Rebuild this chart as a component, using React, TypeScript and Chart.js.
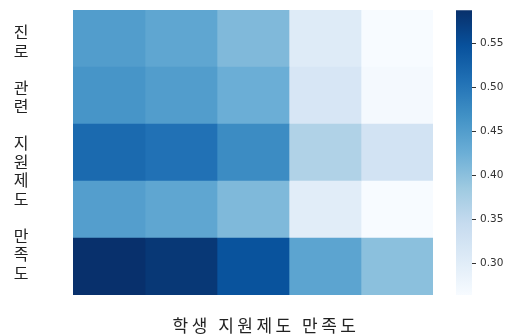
import React, { useEffect, useRef } from "react";
import { Chart, registerables } from "chart.js";

Chart.register(...registerables);

// Heatmap data (rows top -> bottom, columns left -> right)
const rowLabels = ["1", "2", "3", "4", "5"];
const colLabels = ["1", "2", "3", "4", "5"];
const row1 = [0.45, 0.437, 0.409, 0.304, 0.264];
const row2 = [0.461, 0.45, 0.426, 0.316, 0.268];
const row3 = [0.516, 0.507, 0.473, 0.367, 0.325];
const row4 = [0.448, 0.437, 0.41, 0.3, 0.264];
const row5 = [0.587, 0.578, 0.545, 0.44, 0.4];
const rows = [row1, row2, row3, row4, row5];

// Colour bar
const cbMin = 0.2636;
const cbMax = 0.5875;
const cbTicks = [0.3, 0.35, 0.4, 0.45, 0.5, 0.55];

const xTitle = "학생 지원제도 만족도";
const yTitleLines = ["진", "로", "", "관", "련", "", "지", "원", "제", "도", "", "만", "족", "도"];

const blues: [number, number, number][] = [
  [247, 251, 255],
  [222, 235, 247],
  [198, 219, 239],
  [158, 202, 225],
  [107, 174, 214],
  [66, 146, 198],
  [33, 113, 181],
  [8, 81, 156],
  [8, 48, 107],
];

function bluesColor(t: number): string {
  const c = Math.max(0, Math.min(1, t)) * (blues.length - 1);
  const i = Math.min(blues.length - 2, Math.floor(c));
  const f = c - i;
  const a = blues[i];
  const b = blues[i + 1];
  const r = Math.round(a[0] + (b[0] - a[0]) * f);
  const g = Math.round(a[1] + (b[1] - a[1]) * f);
  const bl = Math.round(a[2] + (b[2] - a[2]) * f);
  return `rgb(${r},${g},${bl})`;
}

function valueColor(v: number): string {
  return bluesColor((v - cbMin) / (cbMax - cbMin));
}

const W = 509;
const H = 336;

export default function App() {
  const heatRef = useRef<HTMLCanvasElement>(null);
  const barRef = useRef<HTMLCanvasElement>(null);

  useEffect(() => {
    if (!heatRef.current || !barRef.current) return;

    const titlesPlugin = {
      id: "titles",
      afterDraw(chart: any) {
        const ctx = chart.ctx;
        const area = chart.chartArea;
        ctx.save();
        ctx.fillStyle = "#222";
        ctx.textAlign = "center";
        ctx.textBaseline = "middle";
        // vertical stacked y title
        ctx.font = '16px "Noto Sans CJK KR"';
        const lh = 18.5;
        const cy = (area.top + area.bottom) / 2;
        const startY = cy - ((yTitleLines.length - 1) * lh) / 2;
        yTitleLines.forEach((ch, i) => {
          if (ch) ctx.fillText(ch, 21, startY + i * lh);
        });
        // x title
        ctx.font = '17px "Noto Sans CJK KR"';
        (ctx as any).letterSpacing = "3.5px";
        ctx.fillText(xTitle, 266, 326);
        ctx.restore();
      },
    };

    const heat = new Chart(heatRef.current, {
      type: "bar",
      data: {
        labels: rowLabels,
        datasets: colLabels.map((c, j) => ({
          label: c,
          data: rows.map(() => 1),
          backgroundColor: rows.map((r) => valueColor(r[j])),
          borderWidth: 0,
          barPercentage: 1,
          categoryPercentage: 1,
        })),
      },
      options: {
        indexAxis: "y",
        responsive: false,
        animation: false,
        layout: { padding: { left: 73, right: W - 433, top: 10, bottom: H - 295 } },
        plugins: { legend: { display: false }, tooltip: { enabled: false } },
        scales: {
          x: { stacked: true, min: 0, max: colLabels.length, display: false },
          y: { stacked: true, display: false },
        },
      },
      plugins: [titlesPlugin],
    });

    const cb = new Chart(barRef.current, {
      type: "bar",
      data: {
        labels: ["cb"],
        datasets: [
          {
            data: [[cbMin, cbMax]] as any,
            backgroundColor: (context: any) => {
              const chart = context.chart;
              const area = chart.chartArea;
              if (!area) return bluesColor(0.5);
              const g = chart.ctx.createLinearGradient(0, area.bottom, 0, area.top);
              blues.forEach((c, i) => g.addColorStop(i / (blues.length - 1), `rgb(${c[0]},${c[1]},${c[2]})`));
              return g;
            },
            borderWidth: 0,
            barPercentage: 1,
            categoryPercentage: 1,
          },
        ],
      },
      options: {
        responsive: false,
        animation: false,
        layout: { padding: { left: 456, right: 0, top: 10, bottom: H - 295 } },
        plugins: { legend: { display: false }, tooltip: { enabled: false } },
        scales: {
          x: { display: false },
          y: {
            position: "right",
            min: cbMin,
            max: cbMax,
            afterBuildTicks: (s: any) => {
              s.ticks = cbTicks.map((v) => ({ value: v }));
            },
            afterFit: (s: any) => {
              s.width = W - 472;
            },
            ticks: {
              callback: (v: any) => Number(v).toFixed(2),
              font: { family: "DejaVu Sans", size: 10.5 },
              color: "#333",
              padding: 4,
            },
            grid: { drawOnChartArea: false, drawTicks: true, tickLength: 4, color: "#333" },
            border: { display: false },
          },
        },
      },
    });

    return () => {
      heat.destroy();
      cb.destroy();
    };
  }, []);

  return (
    <div style={{ position: "fixed", left: 0, top: 0, width: W, height: H, background: "#fff" }}>
      <canvas ref={heatRef} width={W} height={H} style={{ position: "absolute", left: 0, top: 0 }} />
      <canvas
        ref={barRef}
        width={W}
        height={H}
        style={{ position: "absolute", left: 0, top: 0, pointerEvents: "none" }}
      />
    </div>
  );
}
